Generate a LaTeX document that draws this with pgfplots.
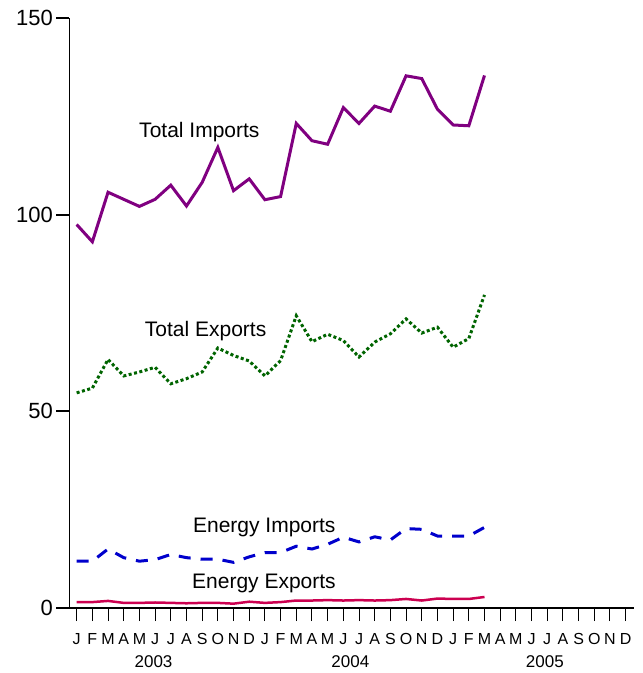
\documentclass[border=0pt]{standalone}
\usepackage{pgfplots}
\usepackage{pgfplotstable}
\pgfplotsset{compat=1.18}
\usepackage{fontspec}
\setmainfont{Liberation Sans}
\definecolor{impcol}{RGB}{128,0,128}
\definecolor{expcol}{RGB}{0,100,0}
\definecolor{eimpcol}{RGB}{0,0,204}
\definecolor{eexpcol}{RGB}{204,0,80}
\pgfplotstableread{
idx ti te ei ee
0 97.5 54.7 11.9 1.5
1 93.1 55.9 11.9 1.5
2 105.7 63.2 15.0 1.8
3 103.9 59.0 12.8 1.3
4 102.1 60.0 11.9 1.3
5 103.9 61.2 12.3 1.4
6 107.5 57.0 13.6 1.3
7 102.2 58.3 12.8 1.2
8 108.2 60.0 12.4 1.3
9 117.1 66.1 12.4 1.3
10 106.1 64.2 11.6 1.1
11 109.1 62.8 13.0 1.6
12 103.8 59.0 14.1 1.3
13 104.6 62.9 14.1 1.5
14 123.2 74.3 15.7 1.9
15 118.8 67.7 15.0 1.9
16 117.9 69.6 16.2 2.0
17 127.2 68.0 18.0 1.9
18 123.2 63.8 16.8 2.0
19 127.6 67.6 18.1 1.9
20 126.3 69.7 17.3 2.0
21 135.3 73.5 20.2 2.3
22 134.6 69.9 20.0 1.9
23 126.8 71.4 18.3 2.4
24 122.8 66.3 18.3 2.3
25 122.6 68.5 18.3 2.3
26 135.4 79.6 20.5 2.8
}\data
\begin{document}
\begin{tikzpicture}
\begin{axis}[
  scale only axis, width=565pt, height=590pt,
  xmin=-0.47, xmax=35.55, ymin=0, ymax=150,
  axis lines*=left,
  x axis line style={line width=2.7pt},
  y axis line style={line width=1pt},
  xtick={0,...,35},
  xticklabels={J,F,M,A,M,J,J,A,S,O,N,D,J,F,M,A,M,J,J,A,S,O,N,D,J,F,M,A,M,J,J,A,S,O,N,D},
  ytick={0,50,100,150},
  tick align=outside,
  major tick length=13pt,
  xtick style={line width=1pt, black},
  ytick style={line width=2.2pt, black},
  /pgf/number format/assume math mode=true,
  yticklabel style={font=\fontsize{22}{26}\selectfont},
  xticklabel style={font=\fontsize{16}{19}\selectfont, anchor=base, yshift=-23pt},
  clip=false,
]
\addplot[impcol, line width=3pt] table[x=idx, y=ti] {\data};
\addplot[expcol, line width=3pt, dash pattern=on 3pt off 2.5pt] table[x=idx, y=te] {\data};
\addplot[eimpcol, line width=3pt, dash pattern=on 12pt off 10pt] table[x=idx, y=ei] {\data};
\addplot[eexpcol, line width=2.5pt] table[x=idx, y=ee] {\data};
\node[anchor=base, font=\fontsize{21}{25}\selectfont] at (axis cs:7.82,119.6) {Total Imports};
\node[anchor=base, font=\fontsize{21}{25}\selectfont] at (axis cs:8.22,69.0) {Total Exports};
\node[anchor=base, font=\fontsize{21}{25}\selectfont] at (axis cs:11.96,19.1) {Energy Imports};
\node[anchor=base, font=\fontsize{21}{25}\selectfont] at (axis cs:11.94,5.0) {Energy Exports};
\node[anchor=base, font=\fontsize{17}{20}\selectfont, yshift=-59pt] at (axis cs:4.9,0) {2003};
\node[anchor=base, font=\fontsize{17}{20}\selectfont, yshift=-59pt] at (axis cs:17.45,0) {2004};
\node[anchor=base, font=\fontsize{17}{20}\selectfont, yshift=-59pt] at (axis cs:29.85,0) {2005};
\end{axis}
\pgfresetboundingbox
\path[use as bounding box] (-69.3pt,-65pt) rectangle (573.7pt,608pt);
\end{tikzpicture}
\end{document}
